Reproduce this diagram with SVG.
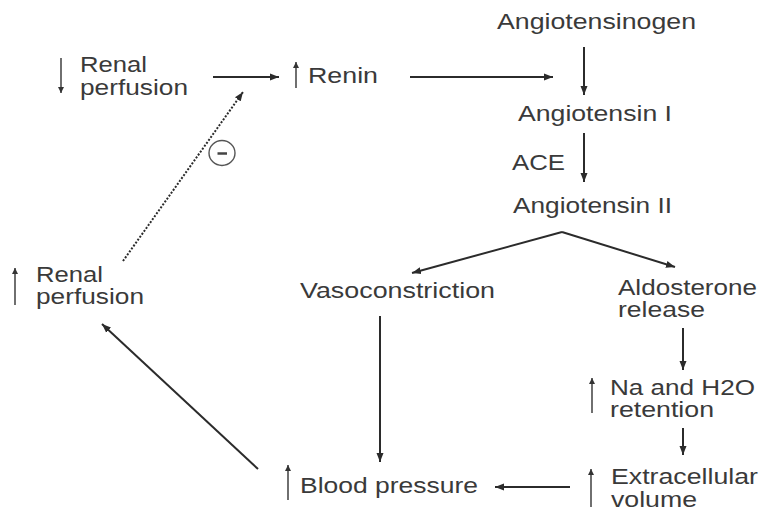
<svg xmlns="http://www.w3.org/2000/svg" width="761" height="516" viewBox="0 0 761 516">
<defs>
<marker id="ah" markerUnits="userSpaceOnUse" markerWidth="10" markerHeight="8" refX="9" refY="4" orient="auto">
<path d="M0,0.5 L9,4 L0,7.5 z" fill="#2b2b2b"/>
</marker>
<marker id="ahs" markerUnits="userSpaceOnUse" markerWidth="7" markerHeight="7" refX="6" refY="3.5" orient="auto">
<path d="M0,0.5 L6,3.5 L0,6.5 z" fill="#333"/>
</marker>
<style>
text{font-family:"Liberation Sans",Arial,sans-serif;font-size:21.5px;fill:#3a3a3a;lengthAdjust:spacingAndGlyphs}
.c{stroke:#2b2b2b;stroke-width:2;fill:none;marker-end:url(#ah)}
.i{stroke:#333;stroke-width:1.4;fill:none;marker-end:url(#ahs)}
</style>
</defs>
<rect width="761" height="516" fill="#fff"/>
<g id="connectors">
<path class="c" d="M213,77 L279,77"/>
<path class="c" d="M410,77 L553,77"/>
<path class="c" d="M584,47 L584,95"/>
<path class="c" d="M584,133 L584,182"/>
<path class="c" d="M562,232 L412,273"/>
<path class="c" d="M562,232 L675,267"/>
<path class="c" d="M380,316 L380,462"/>
<path class="c" d="M683,328 L683,370"/>
<path class="c" d="M683,428 L683,455"/>
<path class="c" d="M570,487 L495,487"/>
<path class="c" d="M258,469 L102,324"/>
<path class="c" d="M123,261 L243,92" stroke-dasharray="2,1.6" stroke-width="2"/>
</g>
<g id="inhibit">
<ellipse cx="222" cy="153" rx="13" ry="12.5" fill="#fff" stroke="#555" stroke-width="1.4"/>
<line x1="217.5" y1="153.5" x2="227" y2="153.5" stroke="#444" stroke-width="2.5"/>
</g>
<g id="n-renal-down">
<path class="i" d="M61,58 L61,93"/>
<text x="80" y="72" textLength="67" lengthAdjust="spacingAndGlyphs">Renal</text>
<text x="80" y="95" textLength="108" lengthAdjust="spacingAndGlyphs">perfusion</text>
</g>
<g id="n-renin">
<path class="i" d="M296,88 L296,62"/>
<text x="308" y="83" textLength="70" lengthAdjust="spacingAndGlyphs">Renin</text>
</g>
<g id="n-angiotensinogen">
<text x="497" y="29" textLength="199" lengthAdjust="spacingAndGlyphs">Angiotensinogen</text>
</g>
<g id="n-ang1">
<text x="518" y="121" textLength="154" lengthAdjust="spacingAndGlyphs">Angiotensin I</text>
</g>
<g id="n-ace">
<text x="512" y="170" textLength="53" lengthAdjust="spacingAndGlyphs">ACE</text>
</g>
<g id="n-ang2">
<text x="513" y="213" textLength="159" lengthAdjust="spacingAndGlyphs">Angiotensin II</text>
</g>
<g id="n-renal-up">
<path class="i" d="M15,305 L15,268"/>
<text x="36" y="282" textLength="67" lengthAdjust="spacingAndGlyphs">Renal</text>
<text x="36" y="304" textLength="108" lengthAdjust="spacingAndGlyphs">perfusion</text>
</g>
<g id="n-vaso">
<text x="300" y="298" textLength="195" lengthAdjust="spacingAndGlyphs">Vasoconstriction</text>
</g>
<g id="n-aldo">
<text x="618" y="295" textLength="139" lengthAdjust="spacingAndGlyphs">Aldosterone</text>
<text x="618" y="317" textLength="87" lengthAdjust="spacingAndGlyphs">release</text>
</g>
<g id="n-na">
<path class="i" d="M592,413 L592,378"/>
<text x="610" y="395" textLength="145" lengthAdjust="spacingAndGlyphs">Na and H2O</text>
<text x="610" y="417" textLength="104" lengthAdjust="spacingAndGlyphs">retention</text>
</g>
<g id="n-bp">
<path class="i" d="M288,500 L288,465"/>
<text x="300" y="493" textLength="178" lengthAdjust="spacingAndGlyphs">Blood pressure</text>
</g>
<g id="n-ecv">
<path class="i" d="M591,507 L591,469"/>
<text x="611" y="484" textLength="147" lengthAdjust="spacingAndGlyphs">Extracellular</text>
<text x="611" y="507" textLength="86" lengthAdjust="spacingAndGlyphs">volume</text>
</g>
</svg>
